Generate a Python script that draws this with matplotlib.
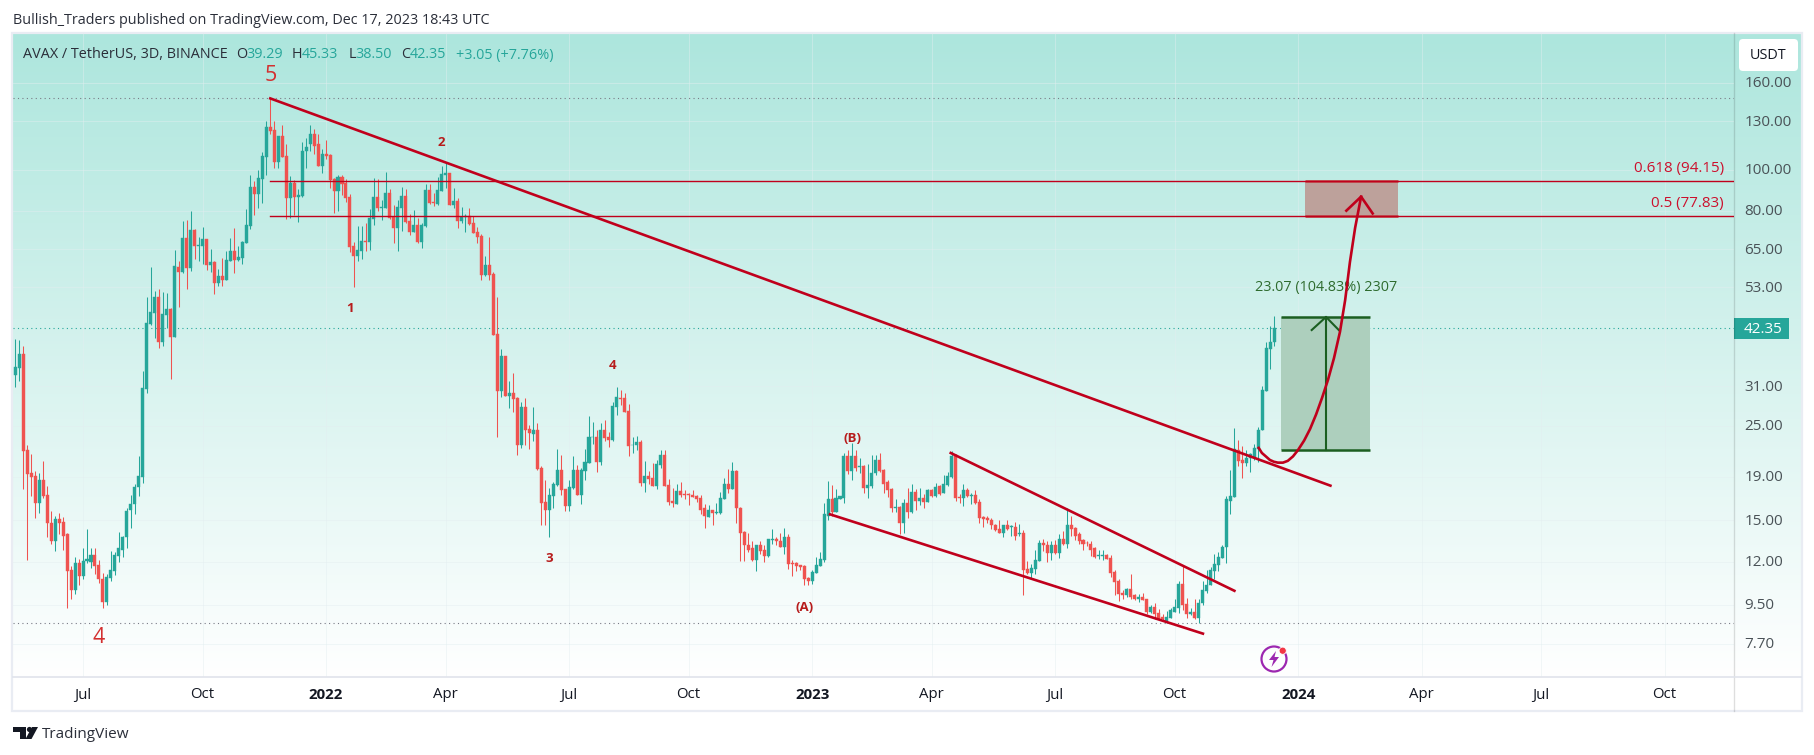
import numpy as np
import matplotlib
matplotlib.use("Agg")
import matplotlib.pyplot as plt
from matplotlib.patches import Rectangle, Circle, FancyBboxPatch, Polygon

plt.rcParams['font.family'] = ['Open Sans', 'DejaVu Sans']

# 3D candles, left to right
opens = [32.9,34.2,36.9,21.9,19.4,19.1,16.5,18.7,17.2,14.8,
13.4,15.1,14.9,13.9,11.5,10.3,11.9,11.1,12.05,12.0,
12.45,11.8,10.95,9.63,11.0,11.4,12.4,12.8,13.7,15.85,
16.4,18.0,19.0,30.6,43.4,46.0,50.2,39.4,45.5,47.1,
40.5,59.1,57.5,69.1,58.7,72.2,66.2,66.2,68.8,59.7,
60.7,54.2,56.3,55.1,61.1,64.4,61.4,62.0,67.3,73.8,
91.1,87.7,95.1,107,126,124,104,120,107.7,85.8,
92.9,86.4,86.8,110.6,114.6,121,115,102,109,108,
95.1,89.1,96.1,92.9,86.3,66.2,62.8,64.4,68.0,67.6,
76.6,86.3,81.3,81.3,88.1,77.5,73.0,81.3,86.8,75.8,
71.4,74.2,67.6,73.8,89.6,84.0,83.1,89.1,97.1,98.2,
82.6,84.5,75.8,77.5,77.9,75.0,71.4,69.9,56.6,59.7,
56.9,41.1,30.2,36.5,29.4,29.9,29.1,22.5,27.7,24.6,
23.9,24.5,19.9,16.6,15.9,17.1,18.2,19.7,17.8,16.2,
17.9,19.7,17.2,19.6,20.5,23.5,23.6,20.6,24.5,23.6,
23.2,27.7,29.1,29.1,27.1,22.5,22.5,22.9,18.4,19.1,
18.9,18.1,20.2,21.4,18.2,16.7,16.4,17.6,17.3,17.3,
17.2,17.1,16.9,16.0,15.3,15.9,15.6,15.6,16.8,18.3,
17.8,19.6,16.05,14.1,13.15,12.9,12.1,13.1,12.8,12.35,
13.5,13.55,13.45,13.0,13.7,11.9,11.9,11.8,11.7,11.0,
10.8,11.3,11.7,12.1,15.4,16.8,15.7,16.8,16.9,21.2,
19.6,21.2,20.0,20.1,17.9,18.1,19.4,20.8,19.7,18.5,
17.8,16.05,16.1,14.75,16.5,15.7,17.5,16.7,16.9,16.6,
17.7,17.1,18.1,17.4,18.2,19.0,21.4,17.0,16.9,17.7,
17.1,17.2,16.6,15.3,15.2,15.05,14.65,14.35,14.0,14.6,
14.5,14.5,13.9,14.0,11.55,11.3,11.55,12.05,13.3,13.15,
12.6,13.15,12.6,13.6,13.2,14.65,14.4,13.9,13.5,13.3,
13.2,12.9,12.4,12.4,12.45,12.25,11.35,10.8,10.15,10.0,
10.35,10.0,9.82,9.93,9.82,9.16,9.4,9.11,8.9,8.7,
8.85,9.16,9.36,10.65,9.55,9.06,9.16,8.85,9.6,10.25,
10.55,11.4,11.8,12.25,13.0,16.7,17.0,22.0,20.8,20.5,
21.0,21.0,22.1,24.4,30.2,37.9,39.29]

highs = [40.0,39.8,38.6,22.5,21.5,19.6,19.4,20.7,18.1,15.8,
15.4,15.6,15.3,14.0,11.7,12.3,12.2,12.9,14.3,12.9,
12.9,12.1,11.3,11.2,12.7,12.65,14.1,13.8,16.0,17.2,
18.3,21.2,33.7,50.2,59.1,51.9,52.5,51.6,51.4,47.3,
64.8,61.1,75.8,76.2,79.9,72.6,69.5,73.4,68.8,65.2,
61.1,58.4,62.0,64.4,69.1,73.0,66.2,68.0,80.8,97.1,
94.1,99.8,110,130,147,130,120,127,114.6,96.6,
94.6,90.1,116,118.7,127,124.6,121,111.8,117.4,109,
95.6,97.1,97.1,95.1,87.7,67.6,73.8,73.8,74.8,80.8,
95.6,95.1,84.9,98.7,90.1,82.6,84.9,91.1,90.1,78.7,
80.4,77.0,75.0,92.5,92.5,88.1,96.1,102,104,98.3,
90.6,85.8,81.7,78.7,81.3,77.9,73.4,70.7,62.8,69.5,
57.5,50.2,37.9,36.5,31.9,33.2,29.3,28.5,29.1,25.1,
27.7,25.4,20.1,18.7,17.9,18.5,22.1,21.4,17.8,18.7,
21.2,20.2,19.9,22.1,26.4,25.5,24.5,25.4,25.8,24.2,
28.5,30.9,30.4,29.9,28.2,23.6,23.7,23.2,20.7,19.6,
20.5,20.8,21.9,21.9,18.8,17.9,18.3,18.5,17.7,17.4,
17.7,17.2,17.2,16.4,16.3,15.9,16.5,17.5,18.9,19.8,
20.6,19.7,16.1,14.2,14.0,13.4,13.1,13.4,13.15,13.6,
14.3,13.7,14.0,14.4,13.9,12.1,12.0,11.8,11.8,11.05,
11.5,12.3,12.65,16.5,18.6,18.2,17.8,17.1,21.6,21.9,
22.8,22.0,21.0,20.2,20.4,21.4,21.4,21.6,19.8,18.7,
17.9,16.8,16.2,16.8,17.9,18.3,17.8,17.9,17.3,17.8,
17.8,18.4,18.2,19.2,19.5,21.8,21.5,17.3,18.3,17.9,
17.4,17.7,16.8,15.4,15.4,15.2,14.7,15.0,14.65,15.05,
14.6,14.9,14.7,14.25,12.05,11.85,12.8,13.5,13.6,13.45,
13.4,13.5,13.9,14.2,16.0,15.4,14.5,14.1,13.55,13.45,
13.45,13.0,12.8,12.8,12.5,12.45,11.5,10.95,10.3,10.4,
11.2,10.1,10.05,10.15,9.82,9.5,9.6,9.31,9.06,9.21,
9.36,9.82,10.8,11.8,9.87,9.36,9.82,9.82,10.8,11.5,
11.65,12.5,12.65,13.15,17.1,19.7,24.7,23.2,22.4,21.9,
21.6,22.7,24.9,31.0,39.4,43.0,45.33]

lows = [30.8,31.8,17.8,12.1,17.1,15.2,15.6,16.9,13.7,13.2,
12.7,13.9,12.8,9.33,9.79,10.1,10.6,10.9,11.9,11.6,
11.2,10.7,9.33,9.47,10.8,11.15,11.95,12.3,12.9,14.4,
15.5,17.1,18.4,29.9,43.2,40.2,38.2,38.6,42.5,32.3,
40.4,47.6,57.2,52.5,57.8,61.7,61.1,60.1,58.1,57.5,
51.1,53.3,53.3,55.0,61.0,57.2,61.1,60.1,67.2,72.6,
78.3,81.3,83.5,97.1,121.5,101,100.7,107,76.6,77.0,
78.3,75.4,86.3,100.7,110.6,109,102,98.2,105.9,90.6,
79.1,79.9,87.2,84.0,64.1,52.9,61.1,61.7,64.4,64.8,
74.2,79.9,76.2,81.2,76.6,67.3,64.4,71.8,75.0,70.3,
71.3,67.3,65.5,73.4,83.1,82.2,82.6,89.0,90.6,82.5,
81.3,73.0,75.0,71.4,74.2,71.0,67.3,55.1,56.3,55.1,
40.8,23.6,29.3,29.4,27.6,26.9,21.4,22.2,22.5,22.1,
23.1,19.7,14.6,14.6,13.7,16.0,18.1,17.2,15.8,15.8,
17.8,17.2,16.4,18.7,20.5,22.7,19.5,20.2,23.1,22.3,
23.1,26.5,28.0,27.0,21.3,21.6,21.9,18.1,17.5,18.3,
18.1,17.8,19.9,18.1,16.3,16.1,16.4,17.0,16.8,16.3,
17.0,16.6,15.5,14.4,15.3,14.6,15.5,15.5,16.8,17.4,
17.8,14.8,12.05,12.05,12.65,12.05,11.4,12.5,12.0,12.3,
13.2,13.1,13.0,12.5,11.55,11.1,11.4,11.5,10.6,10.55,
10.65,11.3,11.7,12.0,15.0,15.4,15.7,16.8,16.5,19.3,
18.7,19.6,19.4,17.4,16.9,17.9,19.2,19.5,17.4,17.0,
15.7,15.7,13.9,14.0,15.2,15.6,15.9,16.3,16.0,16.6,
17.0,17.0,17.2,17.4,18.1,18.9,16.7,16.5,16.2,17.0,
16.4,16.4,14.8,14.5,14.8,14.35,14.2,14.0,13.7,14.25,
13.8,13.5,13.8,10.0,11.2,11.0,11.2,12.05,12.7,12.0,
12.1,12.5,12.25,13.15,12.9,13.8,13.5,13.2,12.8,13.05,
12.35,12.25,12.2,12.1,12.2,11.05,10.0,9.72,9.82,9.93,
9.82,9.77,9.67,9.75,9.06,9.11,8.8,8.75,8.75,8.6,
8.85,9.16,9.11,9.26,8.85,9.0,8.8,8.6,9.5,10.15,
10.55,10.9,11.4,12.25,11.9,15.5,17.0,20.1,18.9,20.1,
19.5,20.8,20.6,24.4,30.2,34.1,38.50]

closes = [34.4,36.9,21.8,19.3,19.0,16.5,18.7,17.1,14.75,13.4,
15.1,14.75,13.8,11.4,10.3,11.9,11.1,12.05,12.15,12.45,
11.7,10.9,9.63,11.05,11.5,12.45,12.9,13.7,15.8,16.4,
18.0,19.1,30.7,43.7,46.3,50.2,39.4,45.8,47.1,40.5,
59.5,57.5,69.1,58.7,72.2,66.2,66.5,68.8,59.7,60.7,
54.2,56.3,55.1,61.4,64.4,61.4,62.4,67.6,74.2,91.1,
87.7,95.6,107.7,126,123,104,120,107,85.8,92.9,
86.3,87.2,110.6,113,121,113.6,102,109,107.7,94.6,
89.1,96.1,92.5,85.8,65.9,62.8,64.8,68.0,67.6,77.0,
86.3,81.3,81.7,88.1,77.0,73.0,81.7,86.8,75.4,71.4,
74.2,67.6,74.2,89.6,83.5,83.7,89.6,97.6,98.2,82.6,
84.5,75.8,77.5,77.9,74.6,71.0,69.5,56.6,59.7,56.6,
40.9,30.2,36.5,29.4,29.9,29.0,22.5,27.7,24.5,24.0,
24.5,19.8,16.5,15.9,17.2,18.3,19.7,17.7,16.2,18.0,
19.7,17.2,19.7,20.6,23.6,23.6,20.6,24.5,23.4,23.2,
27.9,29.3,29.0,27.0,22.4,22.6,22.9,18.4,19.1,18.8,
18.1,20.4,21.4,18.1,16.6,16.5,17.6,17.2,17.2,17.2,
17.0,16.8,15.9,15.4,15.9,15.6,15.7,16.9,18.3,17.8,
19.6,16.0,14.0,13.1,12.8,12.1,13.1,12.7,12.35,13.55,
13.55,13.4,13.0,13.7,11.85,11.85,11.7,11.65,10.95,10.8,
11.35,11.8,12.2,15.5,16.8,15.7,16.9,17.1,21.2,19.6,
21.2,19.9,20.1,17.9,18.2,19.4,20.8,19.6,18.3,17.7,
16.05,16.1,14.75,16.5,15.7,17.5,16.7,16.9,16.6,17.7,
17.1,18.0,17.3,18.3,19.1,21.2,16.9,16.95,17.7,17.1,
17.2,16.5,15.2,15.1,15.0,14.6,14.25,14.0,14.6,14.35,
14.55,13.8,14.0,11.5,11.3,11.6,12.1,13.3,13.1,12.6,
13.15,12.6,13.6,13.2,14.65,14.35,13.8,13.45,13.2,13.25,
12.8,12.3,12.45,12.45,12.2,11.3,10.75,10.1,10.0,10.35,
9.93,9.82,9.93,9.77,9.16,9.4,9.06,8.8,8.8,8.9,
9.26,9.4,10.65,9.5,9.06,9.16,8.85,9.6,10.3,10.6,
11.5,11.85,12.3,13.0,16.8,17.1,22.1,20.7,20.5,21.0,
21.5,22.2,24.5,30.4,38.1,39.4,42.35]

# axis ticks
price_ticks = [160, 130, 100, 80, 65, 53, 31, 25, 19, 15, 12, 9.5, 7.7]
time_pos = [17, 47, 78, 108, 139, 169, 200, 230, 261, 291, 322, 353, 383, 414]
time_labels = ['Jul', 'Oct', '2022', 'Apr', 'Jul', 'Oct', '2023', 'Apr', 'Jul', 'Oct', '2024', 'Apr', 'Jul', 'Oct']

# drawings, bar index and price
trend_x = [64, 330.1]
trend_y = [147, 18.1]
wedge_up_x = [234.8, 306]
wedge_up_y = [21.6, 10.25]
wedge_low_x = [204.5, 298.1]
wedge_low_y = [15.5, 8.13]
curve_x = [312.1,312.9,313.9,314.9,315.9,316.9,318.2,319.4,320.7,321.9,323.5,325,326.5,328,329.5,331,332.5,333.8,335,336.3,337.8]
curve_y = [22.2,21.6,21.2,20.8,20.6,20.5,20.5,20.7,21.2,21.9,23.1,24.6,26.6,29.1,32.1,36.1,41.6,49.4,60.7,73,86.4]
fib_618, fib_50 = 94.15, 77.83
ath, last, bottom = 147, 42.35, 8.6
long_top, long_bot = 45.07, 22.0

UP, DOWN = '#26a69a', '#ef5350'
RED = '#c0001c'
DGREEN = '#1b5e20'
W, H = 1814, 755

fig = plt.figure(figsize=(W/100, H/100), dpi=100, facecolor='white')

# back layer in pixels: panel gradient, frame
bg = fig.add_axes([0, 0, 1, 1], zorder=0)
bg.set_xlim(0, W); bg.set_ylim(H, 0); bg.axis('off')
grad = np.linspace(0, 1, 256)[:, None, None] * (np.array([255, 255, 255]) - np.array([173, 230, 221])) + np.array([173, 230, 221])
bg.imshow(grad.astype(np.uint8), extent=[13, 1801, 677, 33], aspect='auto', zorder=0)
bg.set_xlim(0, W); bg.set_ylim(H, 0)
bg.add_patch(Rectangle((12, 33), 1790, 678, fill=False, ec='#e9ecf3', lw=1.6, zorder=2))

# main chart
l, r, t, b = 13, 1734, 33, 677
ax = fig.add_axes([l/W, 1-b/H, (r-l)/W, (b-t)/H], zorder=1)
ax.patch.set_alpha(0)
ax.set_yscale('log')
ax.set_ylim(6.43, 209.4)
ax.set_xlim(-0.577, 431.4)
for s in ax.spines.values():
    s.set_visible(False)
ax.set_yticks([]); ax.set_xticks([])
ax.minorticks_off()
ax.tick_params(which='both', left=False, bottom=False, labelleft=False, labelbottom=False)

# faint grid
for p in price_ticks:
    ax.axhline(p, color='#e3eef0', lw=0.7, alpha=0.45, zorder=1)
for p in time_pos:
    ax.axvline(p, color='#e3eef0', lw=0.7, alpha=0.45, zorder=1)

ax.axhline(ath, color='#787b86', lw=0.8, ls=(0, (1, 3)), zorder=2)
ax.axhline(bottom, color='#787b86', lw=0.8, ls=(0, (1, 3)), zorder=2)
ax.axhline(last, color=UP, lw=0.8, ls=(0, (1, 3)), zorder=2)

# candles
o = np.array(opens); h = np.array(highs); lo = np.array(lows); c = np.array(closes)
x = np.arange(len(o))
cols = [UP if cc >= oo else DOWN for oo, cc in zip(o, c)]
wicks = ax.vlines(x, lo, h, colors=cols, lw=0.75, zorder=3)
wicks.set_snap(True)
ax.bar(x, np.abs(c-o), bottom=np.minimum(o, c), width=0.76, color=cols, edgecolor=cols, lw=0.3, zorder=4)

# fib box and levels
ax.fill_between([323.8, 347], fib_50, fib_618, color='#bda19b', lw=0, zorder=2)
ax.plot([323.8, 347], [fib_618]*2, color='#c0504f', lw=2, solid_capstyle='butt', zorder=2)
ax.plot([323.8, 347], [fib_50]*2, color='#c0504f', lw=2, solid_capstyle='butt', zorder=2)
ax.plot([64, 431.4], [fib_618]*2, color=RED, lw=1, zorder=5)
ax.plot([64, 431.4], [fib_50]*2, color=RED, lw=1, zorder=5)
ax.text(428.9, 100.6, '0.618 (94.15)', color='#cc0f2c', fontsize=10.9, ha='right', va='center')
ax.text(428.9, 83.2, '0.5 (77.83)', color='#cc0f2c', fontsize=10.9, ha='right', va='center')

# long position box
ax.fill_between([317.8, 340], long_bot, long_top, color='#adcfbd', lw=0, zorder=2)
ax.plot([317.8, 340], [long_top]*2, color=DGREEN, lw=1.8, solid_capstyle='butt', zorder=5)
ax.plot([317.8, 340], [long_bot]*2, color=DGREEN, lw=1.8, solid_capstyle='butt', zorder=5)
ax.plot([329, 329], [long_bot, long_top], color=DGREEN, lw=1.5, zorder=5)
ax.plot([325.4, 329, 332.2], [42, long_top, 42], color=DGREEN, lw=1.5, zorder=5)
ax.text(329, 52.8, '23.07 (104.83%) 2307', color='#2e6b2e', fontsize=10.4, ha='center', va='center', zorder=4)

# trend lines
ax.plot(trend_x, trend_y, color=RED, lw=1.9, zorder=6)
ax.plot(wedge_up_x, wedge_up_y, color=RED, lw=1.9, zorder=6)
ax.plot(wedge_low_x, wedge_low_y, color=RED, lw=1.9, zorder=6)
ax.plot(curve_x, curve_y, color=RED, lw=1.9, zorder=6)
ax.plot([334.1, 337.8, 340.7], [80.1, 86.4, 78.9], color=RED, lw=1.9, zorder=6)

# wave labels
ax.text(64, 166, '5', color='#d32f2f', fontsize=15.5, ha='center', va='center')
ax.text(20.9, 7.95, '4', color='#d32f2f', fontsize=15.5, ha='center', va='center')
for lab, xx, yy in [('2', 107, 116), ('1', 84, 47.3), ('3', 134.1, 12.2), ('4', 150, 34.6), ('(B)', 210.2, 23.3), ('(A)', 198.1, 9.38)]:
    ax.text(xx, yy, lab, color='#b71c1c', fontsize=9.5, fontweight='bold', ha='center', va='center')

# front layer in pixels: labels
ov = fig.add_axes([0, 0, 1, 1], zorder=2)
ov.patch.set_alpha(0)
ov.set_xlim(0, W); ov.set_ylim(H, 0); ov.axis('off')
ov.plot([1734, 1734], [33, 711], color='black', alpha=0.13, lw=1)
ov.plot([13, 1801], [677, 677], color='#e0e3eb', lw=1.2)

ov.text(13, 21, 'Bullish_Traders published on TradingView.com, Dec 17, 2023 18:43 UTC', color='#2a2e39', fontsize=10.4, va='center')
ov.text(23, 55, 'AVAX / TetherUS, 3D, BINANCE', color='#2a2e39', fontsize=10.4, va='center')
for xx, s, col in [(236, 'O', '#2a2e39'), (246, '39.29', UP), (292, 'H', '#2a2e39'), (302, '45.33', UP),
                   (348.6, 'L', '#2a2e39'), (355.7, '38.50', UP), (401.6, 'C', '#2a2e39'), (410, '42.35', UP),
                   (456.5, '+3.05 (+7.76%)', UP)]:
    ov.text(xx, 55, s, color=col, fontsize=10.4, va='center')

for p in price_ticks:
    # same log scale as the chart, read through its transform
    ypx = H - ax.transData.transform((0, p))[1]
    ov.text(1744.5, ypx + 1, '%.2f' % p, color='#4a5257', fontsize=11, va='center')
for p, s in zip(time_pos, time_labels):
    xpx = ax.transData.transform((p, 10))[0]
    ov.text(xpx, 695, s, color='#131722', fontsize=10.8, ha='center', va='center',
            fontweight='bold' if s.isdigit() else 'normal')

# USDT and last price tags
ov.add_patch(FancyBboxPatch((1742, 42), 53, 26, boxstyle='round,pad=3,rounding_size=4', fc='white', ec='none'))
ov.text(1768, 55.5, 'USDT', color='#131722', fontsize=10.4, ha='center', va='center')
ypx = H - ax.transData.transform((0, last))[1]
ov.add_patch(Rectangle((1734, ypx-10.5), 54.6, 21, fc=UP, ec='none'))
ov.text(1744, ypx + 1, '42.35', color='white', fontsize=11, va='center')

# publish icon
ov.add_patch(Circle((1274, 659), 12.5, fill=False, ec='#9c27b0', lw=1.6))
ov.add_patch(Polygon([(1276, 651), (1269, 660), (1273.5, 660), (1271.5, 667), (1279, 657), (1274.5, 657)], fc='#9c27b0', ec='none'))
ov.add_patch(Circle((1282.7, 650.7), 3.6, fc='#f23645', ec='white', lw=0.6))

# logo
LOGO = '#131722'
ov.add_patch(Polygon([(13, 727), (26, 727), (26, 739), (20, 739), (20, 732), (13, 732)], fc=LOGO, ec='none'))
ov.add_patch(Circle((29.5, 729.5), 2.6, fc=LOGO, ec='none'))
ov.add_patch(Polygon([(32, 727), (38, 727), (31.5, 739), (25.5, 739)], fc=LOGO, ec='none'))
ov.text(42, 734, 'TradingView', color='#2a2e39', fontsize=11, va='center')

fig.savefig('out.png', dpi=100)
